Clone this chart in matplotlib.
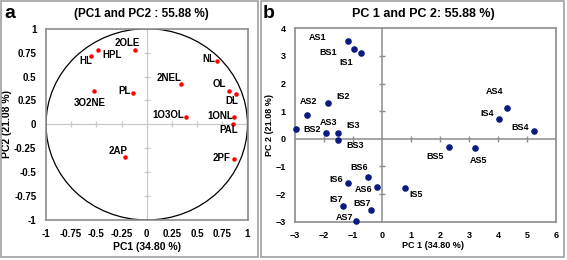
#PCA loading plot (a) and score plot (b)
import matplotlib.pyplot as plt
from matplotlib.patches import Circle, Rectangle

plt.rcParams['font.family'] = ['Liberation Sans', 'DejaVu Sans']
plt.rcParams['font.weight'] = 'bold'

#---Panel a: loadings---
LoadNames = ["2OLE", "HPL", "HL", "NL", "2NEL", "OL", "DL", "PL", "3O2NE",
             "1O3OL", "1ONL", "PAL", "2AP", "2PF"]
LoadPC1 = [-0.12, -0.48, -0.55, 0.70, 0.34, 0.82, 0.89, -0.14, -0.52,
           0.39, 0.87, 0.86, -0.22, 0.87]
LoadPC2 = [0.78, 0.78, 0.71, 0.66, 0.42, 0.35, 0.32, 0.33, 0.35,
           0.08, 0.08, 0.00, -0.34, -0.36]

#---Panel b: scores---
ScoreNames = ["AS1", "BS1", "IS1", "IS2", "AS2", "BS2", "AS3", "IS3", "BS3",
              "BS4", "AS4", "IS4", "BS5", "AS5", "BS6", "IS6", "AS6", "IS5",
              "IS7", "BS7", "AS7"]
ScorePC1 = [-1.18, -0.98, -0.74, -1.86, -2.60, -2.95, -1.94, -1.52, -1.52,
            5.25, 4.31, 4.04, 2.30, 3.21, -0.47, -1.17, -0.18, 0.80,
            -1.36, -0.38, -0.89]
ScorePC2 = [3.54, 3.26, 3.09, 1.31, 0.86, 0.36, 0.20, 0.20, -0.04,
            0.30, 1.13, 0.73, -0.28, -0.32, -1.37, -1.60, -1.75, -1.79,
            -2.43, -2.56, -2.96]

#label offsets in points
LoadOffsets = [(-5.4, 4.5), (9.7, -3.8), (-4.1, -3.2), (-6.3, 1.3), (-8.4, 4.5),
               (-7.4, 5), (-3.6, -5.2), (-5.8, 1.1), (-3.7, -8.5), (-13.1, 1.5),
               (-10.4, 0.2), (-3.5, -3.8), (-4.5, 4), (-9, 0.4)]
ScoreOffsets = [(-21.5, 2.4), (-18, -2.9), (-10.4, -6.4), (10.6, 4.1), (1.7, 9.5),
                (11.5, -0.2), (1.7, 7.7), (11, 5.8), (12.2, -4.1), (-9.9, 2.4),
                (-8.8, 11.8), (-8.5, 3.9), (-10.1, -7.4), (2.7, -8.9), (-6.5, 6.3),
                (-8.4, 2.7), (-9.7, -1.4), (7.6, -4.8), (-4.3, 4.5), (-6.7, 4.6),
                (-8.1, 2.4)]

W, H = 567, 260
Fig = plt.figure(figsize=(W / 100, H / 100), dpi=100)
FrameCol = "#8c8c8c"

#outer panel borders
for x0, x1 in [(1, 258), (261, 564)]:
    Fig.patches.append(Rectangle((x0 / W, 1 - 257 / H), (x1 - x0) / W, 256 / H,
                                 transform=Fig.transFigure, fill=False,
                                 ec="#a0a0a0", lw=1.2))

#---Panel a---
Ax1 = Fig.add_axes([46 / W, 1 - 220 / H, 201.5 / W, 191.3 / H])
Ax1.set_xlim(-1, 1)
Ax1.set_ylim(-1, 1)
Ax1.axhline(0, color="#c8c8c8", lw=0.9, zorder=1)
Ax1.axvline(0, color="#c8c8c8", lw=0.9, zorder=1)
T = [-0.75, -0.5, -0.25, 0.25, 0.5, 0.75]
Ax1.plot(T, [0] * len(T), ls="none", marker="|", ms=5, color="#c8c8c8", mew=0.9)
Ax1.plot([0] * len(T), T, ls="none", marker="_", ms=5, color="#c8c8c8", mew=0.9)
Ax1.add_patch(Circle((0, 0), 1, fill=False, ec="black", lw=0.9, zorder=2))
Ax1.scatter(LoadPC1, LoadPC2, s=5, color="red", zorder=3)
for i in range(len(LoadNames)):
    Ax1.annotate(LoadNames[i], (LoadPC1[i], LoadPC2[i]), xytext=LoadOffsets[i],
                 textcoords="offset points", ha="center", va="center",
                 fontsize=7, fontweight="bold")
Ax1.set_xticks([-1, -0.75, -0.5, -0.25, 0, 0.25, 0.5, 0.75, 1])
Ax1.set_xticklabels(["-1", "-0.75", "-0.5", "-0.25", "0", "0.25", "0.5", "0.75", "1"])
Ax1.set_yticks([-1, -0.75, -0.5, -0.25, 0, 0.25, 0.5, 0.75, 1])
Ax1.set_yticklabels(["-1", "-0.75", "-0.5", "-0.25", "0", "0.25", "0.5", "0.75", "1"])
Ax1.tick_params(length=0, labelsize=7, pad=6.5)
Ax1.tick_params(axis="y", pad=7)
for s in Ax1.spines.values():
    s.set_color(FrameCol)
    s.set_linewidth(1.2)
Ax1.set_xlabel("PC1 (34.80 %)", fontsize=7.5, fontweight="bold")
Ax1.set_ylabel("PC2 (21.08 %)", fontsize=7.5, fontweight="bold")
Ax1.xaxis.set_label_coords(0.5, -0.115)
Ax1.yaxis.set_label_coords(-0.169, 0.5)
Fig.text(141.7 / W, 1 - 14 / H, "(PC1 and PC2 : 55.88 %)", ha="center", va="center",
         fontsize=8.5, fontweight="bold")
Fig.text(4 / W, 1 - 14 / H, "a", ha="left", va="center", fontsize=14, fontweight="bold")

#---Panel b---
Ax2 = Fig.add_axes([295 / W, 1 - 221.7 / H, 261 / W, 193.4 / H])
Ax2.set_xlim(-3, 6)
Ax2.set_ylim(-3, 4)
Ax2.axhline(0, color="#8c8c8c", lw=1.1, zorder=1)
Ax2.axvline(0, color="#8c8c8c", lw=1.1, zorder=1)
TX = [-2, -1, 1, 2, 3, 4, 5]
TY = [-2, -1, 1, 2, 3]
Ax2.plot(TX, [0] * len(TX), ls="none", marker="|", ms=5, color="#8c8c8c", mew=1)
Ax2.plot([0] * len(TY), TY, ls="none", marker="_", ms=5, color="#8c8c8c", mew=1)
Ax2.scatter(ScorePC1, ScorePC2, s=14, color="#0b1a80", zorder=3, clip_on=False)
for i in range(len(ScoreNames)):
    Ax2.annotate(ScoreNames[i], (ScorePC1[i], ScorePC2[i]), xytext=ScoreOffsets[i],
                 textcoords="offset points", ha="center", va="center",
                 fontsize=6.5, fontweight="bold")
Ax2.set_xticks(range(-3, 7))
Ax2.set_yticks(range(-3, 5))
Ax2.tick_params(length=0, labelsize=6.5, pad=7)
Ax2.tick_params(axis="y", pad=6.5)
for s in Ax2.spines.values():
    s.set_color(FrameCol)
    s.set_linewidth(1.2)
Ax2.set_xlabel("PC 1 (34.80 %)", fontsize=6.5, fontweight="bold")
Ax2.set_ylabel("PC 2 (21.08 %)", fontsize=6.5, fontweight="bold")
Ax2.xaxis.set_label_coords(0.529, -0.102)
Ax2.yaxis.set_label_coords(-0.082, 0.5)
Fig.text(423 / W, 1 - 14 / H, "PC 1 and PC 2: 55.88 %)", ha="center", va="center",
         fontsize=9, fontweight="bold")
Fig.text(263 / W, 1 - 14 / H, "b", ha="left", va="center", fontsize=14, fontweight="bold")

Fig.savefig("out.png", dpi=100)
